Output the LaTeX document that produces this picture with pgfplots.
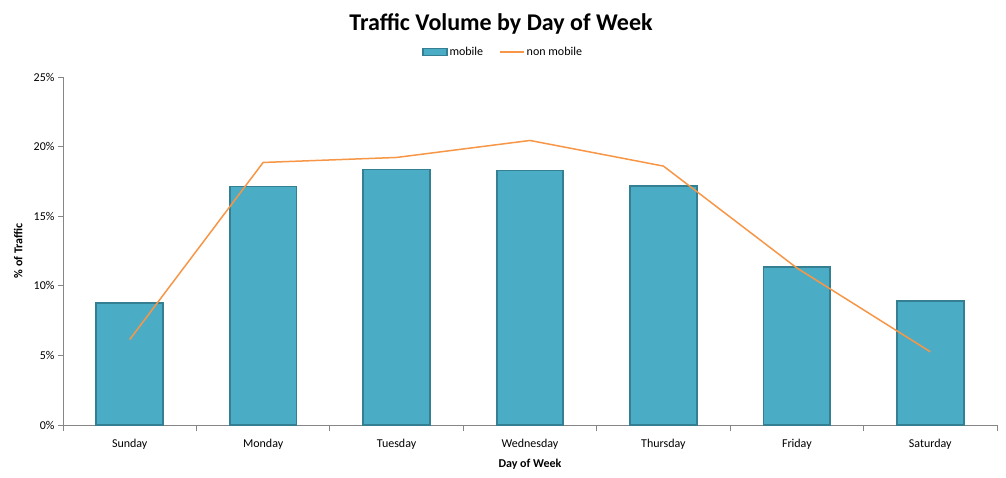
\documentclass[border=0pt]{standalone}
\usepackage{pgfplots}
\pgfplotsset{compat=1.18}
\usepackage{fontspec}
\setmainfont{Carlito}
\definecolor{barfill}{HTML}{4BACC6}
\definecolor{baredge}{HTML}{357F92}
\definecolor{linecol}{HTML}{F79646}
\definecolor{axgray}{HTML}{868686}
\pgfplotsset{
  barlegend/.style={legend image code/.code={\draw[##1, line width=1.8pt] (0pt,-3.5pt) rectangle (24pt,3.5pt);}},
  linelegend/.style={legend image code/.code={\draw[##1] (0pt,0pt) -- (24pt,0pt);}},
}
\begin{document}
\begin{tikzpicture}[x=1pt,y=1pt]
\path[use as bounding box] (0,0) rectangle (1006,477);
\begin{axis}[
  at={(63pt,52pt)}, anchor=south west,
  scale only axis, width=934pt, height=348pt,
  xmin=-0.5, xmax=6.5, ymin=0, ymax=25,
  axis x line*=bottom, axis y line*=left,
  axis line style={draw=axgray, line width=0.8pt},
  xtick={0,...,6},
  xticklabels={Sunday,Monday,Tuesday,Wednesday,Thursday,Friday,Saturday},
  minor xtick={-0.5,0.5,...,6.5},
  major x tick style={draw=none},
  minor x tick style={draw=axgray, line width=0.8pt},
  y tick style={draw=axgray, line width=0.8pt},
  tick align=outside, major tick length=5pt, minor tick length=6pt,
  ytick={0,5,...,25},
  yticklabel={\pgfmathprintnumber{\tick}\%},
  /pgf/number format/assume math mode=true,
  tick label style={font=\fontsize{12}{14}\selectfont, text=black},
  xticklabel style={yshift=-6pt},
  xlabel={Day of Week}, ylabel={\% of Traffic},
  xlabel style={font=\bfseries\fontsize{12}{14}\selectfont, at={(axis description cs:0.5,-0.112)}, anchor=center},
  ylabel style={font=\bfseries\fontsize{12}{14}\selectfont, at={(axis description cs:-0.048,0.5)}, anchor=center},
  title={Traffic Volume by Day of Week},
  title style={font=\bfseries\fontsize{24}{28}\selectfont, at={(axis description cs:0.469,1.135)}, anchor=center},
  legend style={at={(axis description cs:0.471,1.072)}, anchor=center, draw=none, font=\fontsize{12}{14}\selectfont, legend columns=2, /tikz/every even column/.append style={column sep=14pt}},
  clip=false,
]
\addplot[ybar, bar width=0.5, fill=barfill, draw=baredge, line width=1.8pt, barlegend]
  coordinates {(0,8.75) (1,17.13) (2,18.36) (3,18.28) (4,17.15) (5,11.34) (6,8.9)};
\addlegendentry{mobile}
\addplot[linecol, line width=1.5pt, mark=none, linelegend]
  coordinates {(0,6.14) (1,18.86) (2,19.22) (3,20.44) (4,18.6) (5,11.28) (6,5.26)};
\addlegendentry{non mobile}
\end{axis}
\end{tikzpicture}
\end{document}
